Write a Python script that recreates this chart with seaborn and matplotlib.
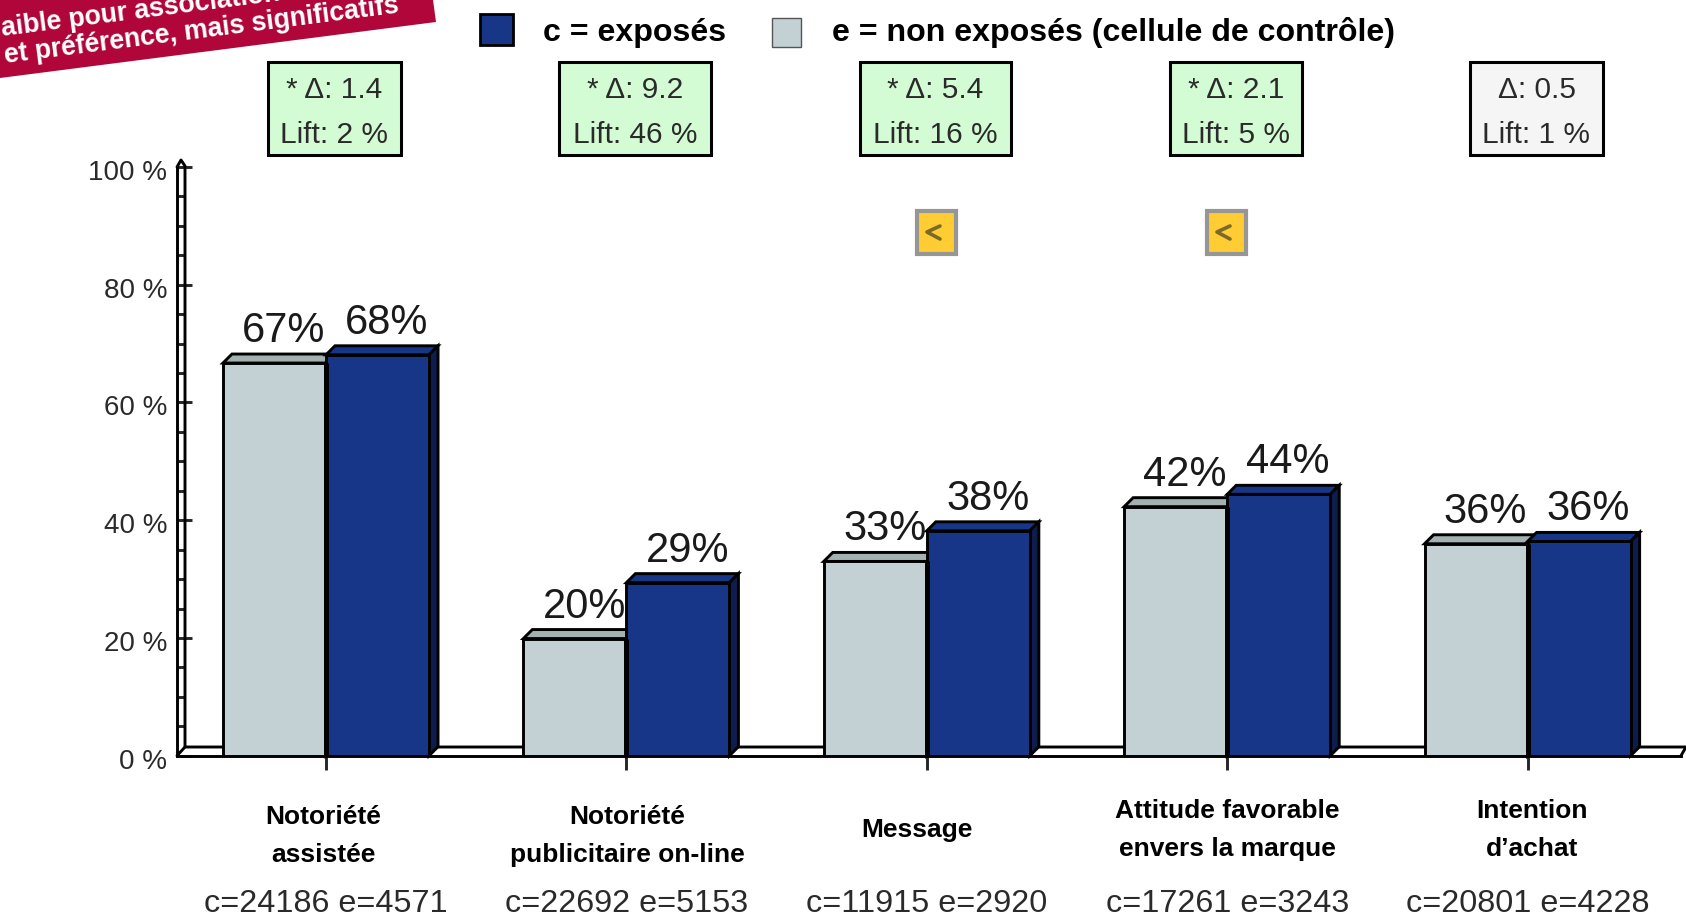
import numpy as np
import pandas as pd
import matplotlib as mpl

mpl.use("Agg")
import matplotlib.pyplot as plt
from matplotlib.patches import Polygon, Rectangle
from matplotlib.transforms import Affine2D, ScaledTranslation
import seaborn as sns

# values
metrics = [
    "Notoriété\nassistée",
    "Notoriété\npublicitaire on-line",
    "Message",
    "Attitude favorable\nenvers la marque",
    "Intention\nd’achat",
]
samples = [
    "c=24186 e=4571",
    "c=22692 e=5153",
    "c=11915 e=2920",
    "c=17261 e=3243",
    "c=20801 e=4228",
]
control = [66.7, 19.9, 33.0, 42.3, 36.0]
exposed = [68.1, 29.4, 38.2, 44.4, 36.4]
control_labels = ["67%", "20%", "33%", "42%", "36%"]
exposed_labels = ["68%", "29%", "38%", "44%", "36%"]
delta = ["* Δ: 1.4", "* Δ: 9.2", "* Δ: 5.4", "* Δ: 2.1", "Δ: 0.5"]
lift = ["Lift: 2 %", "Lift: 46 %", "Lift: 16 %", "Lift: 5 %", "Lift: 1 %"]
signif = [True, True, True, True, False]
group_names = ["e = non exposés (cellule de contrôle)", "c = exposés"]

GRAY = "#C3D1D5"
GRAY_TOP = "#A3B1B1"
BLUE = "#183687"
BLUE_SIDE = "#0D1D4D"
LW = 2.1

sns.set_theme(style="white")
plt.rcParams["font.family"] = ["Liberation Sans", "DejaVu Sans"]

W, H = 1686, 922
fig = plt.figure(figsize=(W / 100, H / 100), dpi=100)

# axes placed in pixels of the reference
left, right, bottom, top = 177, 1681, 755.7, 167
ax = fig.add_axes([left / W, 1 - bottom / H, (right - left) / W, (bottom - top) / H])
ax.patch.set_alpha(0)

df = pd.DataFrame(
    {
        "metric": metrics * 2,
        "value": control + exposed,
        "group": [group_names[0]] * 5 + [group_names[1]] * 5,
    }
)
sns.barplot(
    data=df,
    x="metric",
    y="value",
    hue="group",
    hue_order=group_names,
    palette=[GRAY, BLUE],
    saturation=1,
    width=0.686,
    gap=0,
    edgecolor="black",
    linewidth=LW,
    legend=False,
    ax=ax,
)

step = 300.4
ax.set_xlim(-(326 - left) / step, (right - 326) / step)
ax.set_ylim(0, 100)
px_x = 1 / step
px_y = 100 / (bottom - top)
dx = 9 * px_x
dy = 9 * px_y

# fake 3d, top and side faces taken from the bars seaborn drew
bars = list(ax.patches)
for i, b in enumerate(bars):
    is_blue = i >= 5
    z = 5 if is_blue else 3
    b.set_zorder(z + 1)
    x0, w, h = b.get_x(), b.get_width(), b.get_height()
    ax.add_patch(
        Polygon(
            [(x0, h), (x0 + dx, h + dy), (x0 + w + dx, h + dy), (x0 + w, h)],
            fc=BLUE if is_blue else GRAY_TOP,
            ec="black",
            lw=LW,
            zorder=z,
            clip_on=False,
            joinstyle="miter",
        )
    )
    ax.add_patch(
        Polygon(
            [(x0 + w, 0), (x0 + w + dx, dy), (x0 + w + dx, h + dy), (x0 + w, h)],
            fc=BLUE_SIDE if is_blue else GRAY_TOP,
            ec="black",
            lw=LW,
            zorder=z,
            clip_on=False,
            joinstyle="miter",
        )
    )
    txt = exposed_labels[i - 5] if is_blue else control_labels[i]
    ax.annotate(
        txt,
        (x0 + w / 2, h),
        xytext=(9.5 * 0.72, 21 * 0.72),
        textcoords="offset points",
        ha="center",
        va="baseline",
        fontsize=30,
        color="#1a1a1a",
        annotation_clip=False,
        zorder=8,
    )

# thick divider between the two bars of a pair
pos = np.arange(len(metrics))
ax.vlines(pos, 0, np.minimum(control, exposed), color="black", lw=3.6, zorder=7)

# axes
for s in ["top", "right"]:
    ax.spines[s].set_visible(False)
for s in ["left", "bottom"]:
    ax.spines[s].set_linewidth(LW)
    ax.spines[s].set_color("black")

ax.set_yticks(np.arange(0, 101, 20))
ax.set_yticks(np.arange(0, 101, 5), minor=True)
ax.set_yticklabels(["0 %", "20 %", "40 %", "60 %", "80 %", "100 %"], fontsize=20, color="#2a2a2a")
ax.tick_params(axis="y", which="major", direction="in", length=11, width=LW, pad=7, left=True)
ax.tick_params(axis="y", which="minor", direction="in", length=6, width=LW, left=True)
ax.set_xticks(pos)
ax.set_xticklabels(samples, fontsize=23.3, color="#2a2a2a")
ax.tick_params(axis="x", which="major", direction="out", length=10, width=LW, pad=86, bottom=True)
for lab in ax.get_yticklabels():
    lab.set_transform(lab.get_transform() + ScaledTranslation(0, -3 / 100, fig.dpi_scale_trans))
ax.set_xlabel("")
ax.set_ylabel("")

# back lines of wall and floor
x_l, x_r = ax.get_xlim()
ax.plot(
    [x_l, x_l + 8 * px_x, x_r + 5 * px_x, x_r],
    [0, 8.7 * px_y, 8.7 * px_y, 0],
    color="black",
    lw=LW,
    clip_on=False,
    zorder=2,
)
ax.plot(
    [x_l + 8 * px_x, x_l + 8 * px_x, x_l + 4 * px_x, x_l],
    [8.7 * px_y, 100 + 1 * px_y, 100 + 7 * px_y, 100],
    color="black",
    lw=LW,
    clip_on=False,
    zorder=2,
)

# category names
name_x = [323, 627, 917, 1227, 1532]
name_y = [836, 836, 830, 830, 830]
px = Affine2D().scale(1 / W, -1 / H).translate(0, 1) + fig.transFigure
for name, nx, ny in zip(metrics, name_x, name_y):
    fig.text(
        nx,
        ny,
        name,
        transform=px,
        ha="center",
        va="center",
        fontsize=19,
        fontweight="bold",
        color="black",
        linespacing=1.72,
    )

# delta / lift boxes
box_w = [133, 152, 151, 132, 133]
for i in range(5):
    cx = 334.5 + 300.5 * i
    fig.add_artist(
        Rectangle(
            (cx - box_w[i] / 2, 62),
            box_w[i],
            93,
            transform=px,
            fc="#D4FCD4" if signif[i] else "#F5F5F5",
            ec="black",
            lw=2.2,
        )
    )
    fig.text(cx, 90, delta[i], transform=px, ha="center", va="center", fontsize=21.5, color="#2a2a2a")
    fig.text(cx, 135, lift[i], transform=px, ha="center", va="center", fontsize=21.5, color="#2a2a2a")

# small yellow icons
for ix in [915, 1205]:
    fig.add_artist(
        Rectangle((ix + 2, 211), 39, 43, transform=px, fc="#FFCC33", ec="#969696", lw=3)
    )
    fig.add_artist(
        plt.Line2D(
            [ix + 25, ix + 12, ix + 25],
            [226, 232, 239],
            transform=px,
            color="#7A6A2A",
            lw=2.6,
        )
    )

# legend
fig.add_artist(Rectangle((480, 14), 33, 31, transform=px, fc=BLUE, ec="black", lw=2))
fig.add_artist(Rectangle((772, 18), 29, 29, transform=px, fc=GRAY, ec="#555555", lw=1))
fig.text(543, 33, group_names[1], transform=px, ha="left", va="center", fontsize=23.1, fontweight="bold", color="black")
fig.text(832, 33, group_names[0], transform=px, ha="left", va="center", fontsize=23.1, fontweight="bold", color="black")

# red banner, runs off the top left corner
fig.add_artist(
    Polygon([(0, 0), (433, 0), (436, 22), (0, 78)], transform=px, fc="#B0063A", ec="none")
)
banner_kw = dict(
    transform=px,
    rotation=7.3,
    rotation_mode="anchor",
    ha="left",
    va="baseline",
    fontsize=19.2,
    fontweight="bold",
    color="white",
)
fig.text(-14, 38, "Faible pour association", **banner_kw)
fig.text(5, 63, "et préférence, mais significatifs", **banner_kw)

fig.savefig("out.png", dpi=100)
